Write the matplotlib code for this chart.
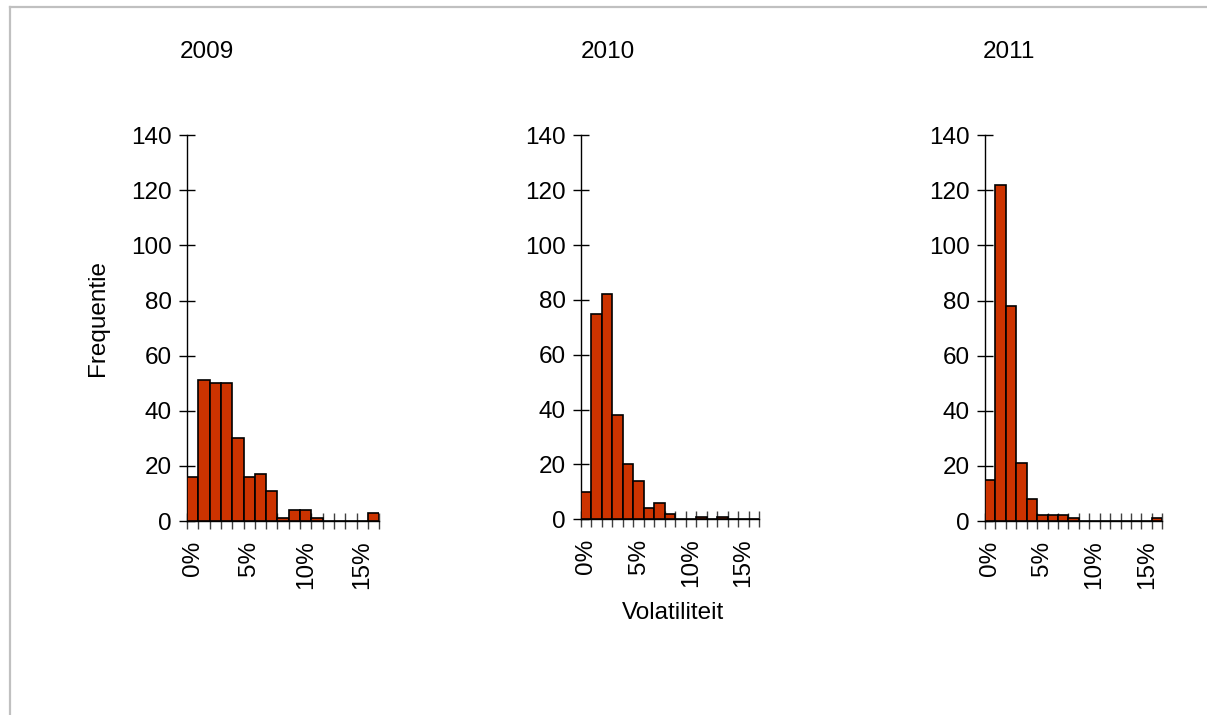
import matplotlib
matplotlib.use("Agg")
import matplotlib.pyplot as plt
from matplotlib.lines import Line2D
import numpy as np

plt.rcParams['font.family'] = ['Liberation Sans', 'DejaVu Sans']

years = ["2009", "2010", "2011"]
bins = list(range(17))  # volatility classes 0% .. 16%
counts_2009 = [16, 51, 50, 50, 30, 16, 17, 11, 1, 4, 4, 1, 0, 0, 0, 0, 3]
counts_2010 = [10, 75, 82, 38, 20, 14, 4, 6, 2, 0, 0, 1, 0, 1, 0, 0, 0]
counts_2011 = [15, 122, 78, 21, 8, 2, 2, 2, 1, 0, 0, 0, 0, 0, 0, 0, 1]
counts = [counts_2009, counts_2010, counts_2011]
tick_positions = [0, 5, 10, 15]
tick_labels = ["0%", "5%", "10%", "15%"]
y_ticks = [0, 20, 40, 60, 80, 100, 120, 140]

W, H = 1207, 715
fig = plt.figure(figsize=(W / 100, H / 100), dpi=100)

# axes boxes in pixels: (left, right, y_bottom, y_top)
boxes = [(187, 379.3, 521, 135.3), (581, 759, 519.3, 135.3), (985, 1162.3, 521, 135.3)]
title_x = [207, 608, 1009]
FS = 17.5
bar_color = "#CC3300"

for i, (yr, c, (l, r, yb, yt)) in enumerate(zip(years, counts, boxes)):
    ax = fig.add_axes([l / W, 1 - yb / H, (r - l) / W, (yb - yt) / H])
    ax.bar(bins, c, width=1.0, color=bar_color, edgecolor="black", linewidth=1.2, zorder=3)
    ax.set_xlim(-0.5, 16.5)
    ax.set_ylim(0, 140)
    for s in ["top", "right"]:
        ax.spines[s].set_visible(False)
    for s in ["left", "bottom"]:
        ax.spines[s].set_linewidth(1.0)
        ax.spines[s].set_color("black")
    ax.set_yticks(y_ticks)
    ax.tick_params(axis="y", direction="inout", length=12, width=1.0, pad=5, labelsize=FS)
    ax.set_xticks(tick_positions)
    ax.set_xticklabels(tick_labels, rotation=90, fontsize=FS)
    ax.set_xticks(np.arange(-0.5, 17.0, 1.0), minor=True)
    ax.tick_params(axis="x", which="major", length=0, pad=14)
    ax.tick_params(axis="x", which="minor", direction="inout", length=11, width=1.0, color="#404040")
    ax.patch.set_alpha(0)
    fig.text(title_x[i] / W, 1 - 52 / H, yr, ha="center", va="center", fontsize=FS)

fig.text(98 / W, 1 - 318 / H, "Frequentie", rotation=90, ha="center", va="center", fontsize=FS)
fig.text(673 / W, 1 - 613 / H, "Volatiliteit", ha="center", va="center", fontsize=FS)

# outer gray frame (top and left edges)
fig.add_artist(Line2D([10 / W, 1.0], [1 - 6.7 / H, 1 - 6.7 / H], transform=fig.transFigure,
                      color="#c0c0c0", linewidth=1.6))
fig.add_artist(Line2D([10 / W, 10 / W], [1 - 6.7 / H, 0.0], transform=fig.transFigure,
                      color="#c0c0c0", linewidth=1.6))

fig.savefig("out.png", dpi=100)
